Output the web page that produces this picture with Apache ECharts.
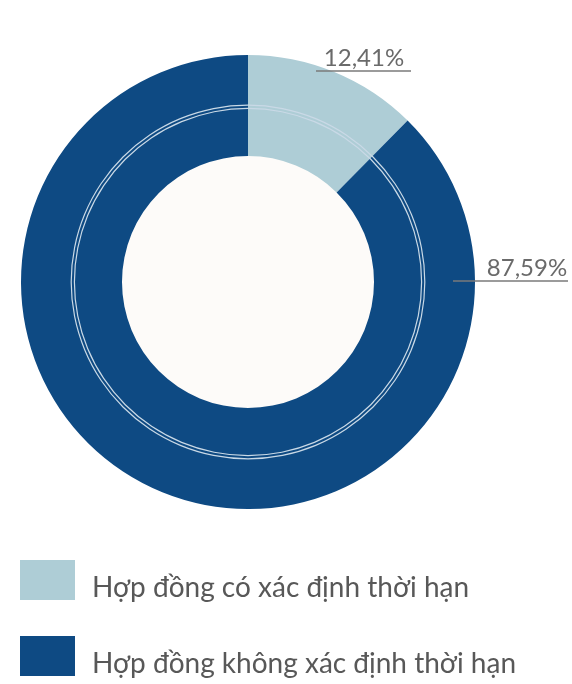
<!DOCTYPE html>
<html><head><meta charset="utf-8">
<script src="https://cdn.jsdelivr.net/npm/echarts@6/dist/echarts.min.js"></script>
<style>html,body{margin:0;padding:0;background:#fff;}#c{width:572px;height:684px;}</style>
</head><body><div id="c"></div>
<script>
const categories = ["Hợp đồng có xác định thời hạn", "Hợp đồng không xác định thời hạn"];
const values = [12.41, 87.59];
const colors = ["#aecdd6", "#0e4a83"];

const labelSpots = [
  {x: 364, y: 58, line: [[316, 71], [364, 71], [411, 71]]},
  {x: 527, y: 268, line: [[453, 281], [510, 281], [568, 281]]}
];
const legendTops = [555, 631];

const chart = echarts.init(document.getElementById('c'));
const pieData = categories.map((n, i) => ({name: n, value: values[i], itemStyle: {color: colors[i]}}));
chart.setOption({
  backgroundColor: '#fff',
  animation: false,
  legend: categories.map((n, i) => ({
    left: 20, top: legendTops[i], itemWidth: 55, itemHeight: 40, padding: 0,
    icon: 'rect', selectedMode: false,
    formatter: name => '{s| }\n{t|' + name + '}',
    textStyle: {
      padding: [0, 0, 0, 12],
      rich: {
        s: {fontSize: 10, lineHeight: 16, height: 16},
        t: {fontFamily: 'Lato', fontSize: 28, lineHeight: 34, color: '#585858'}
      }
    },
    data: [n]
  })),
  series: [
    {
      type: 'pie', center: [248, 282], radius: [0, 127], silent: true,
      label: {show: false}, labelLine: {show: false},
      data: [{value: 1, name: 'bg', itemStyle: {color: '#fdfbf9'}}]
    },
    {
      type: 'pie', center: [248, 282], radius: [126, 227], startAngle: 90, clockwise: true,
      silent: true, data: pieData,
      label: {show: false}, labelLine: {show: false}
    },
    {
      type: 'pie', center: [248, 282], radius: [173, 174.2], silent: true,
      label: {show: false}, labelLine: {show: false},
      data: [{value: 1, name: 'ring1', itemStyle: {color: '#c9d9e6'}}]
    },
    {
      type: 'pie', center: [248, 282], radius: [176.2, 177.4], silent: true,
      label: {show: false}, labelLine: {show: false},
      data: [{value: 1, name: 'ring2', itemStyle: {color: '#c9d9e6'}}]
    },
    {
      type: 'pie', center: [248, 282], radius: [126, 227], startAngle: 90, clockwise: true,
      silent: true, z: 5,
      data: categories.map((n, i) => ({name: n, value: values[i], itemStyle: {color: 'rgba(0,0,0,0)'}})),
      label: {
        show: true, position: 'outside', fontFamily: 'Lato', fontSize: 24, color: '#6a6a6a',
        formatter: p => p.value.toFixed(2).replace('.', ',') + '%'
      },
      labelLine: {show: true, lineStyle: {color: '#7a7a7a', width: 1.3}},
      labelLayout: p => {
        const s = labelSpots[p.dataIndex];
        return {x: s.x, y: s.y, align: 'center', verticalAlign: 'middle', labelLinePoints: s.line};
      }
    }
  ]
});
</script></body></html>
